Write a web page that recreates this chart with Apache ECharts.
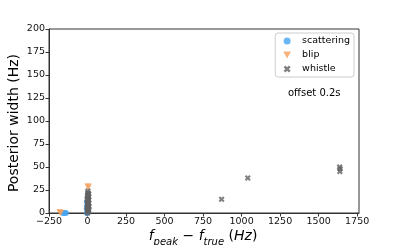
<!DOCTYPE html>
<html><head><meta charset="utf-8">
<script src="https://cdn.jsdelivr.net/npm/echarts@6/dist/echarts.min.js"></script>
<style>html,body{margin:0;padding:0;background:#fff}#c{width:399px;height:245px}</style>
</head><body><div id="c"></div>
<script>
const xTicks = [-250, 0, 250, 500, 750, 1000, 1250, 1500, 1750];
const yTicks = [0, 25, 50, 75, 100, 125, 150, 175, 200];
const scatteringX = [-150, -140, -160, -3, -5, 2, -4, 0, 3];
const scatteringY = [0, 0, 0, 0, 5, 2, 12, 8, 18];
const blipX = [-175, -180, 5, 3];
const blipY = [0, 1, 28, 29];
const whistleX = [0, 4, -2, 8, 2, 6, -4, 10, 1, 5, -1, 7, 3, 0, 9, -3, 4, 2, 6, 0, 5, 8, 1, 3, 870, 1040, 1638, 1640, 1636];
const whistleY = [0, 1, 2, 3, 4, 5, 6, 7, 8, 9, 10, 11, 12, 13, 14, 15, 16, 17, 18, 19, 20, 21, 22, 24, 15, 38, 45, 48, 50];

const pairs = (xs, ys) => xs.map((x, i) => [x, ys[i]]);
const xPath = 'path://M0,2.5 L2.5,0 L5,2.5 L7.5,0 L10,2.5 L7.5,5 L10,7.5 L7.5,10 L5,7.5 L2.5,10 L0,7.5 L2.5,5 Z';
const F = 'DejaVu Sans';
const chart = echarts.init(document.getElementById('c'), null, {renderer: 'canvas'});
chart.setOption({
  animation: false,
  backgroundColor: '#fff',
  grid: {left: 49, top: 29, right: 40, bottom: 32, show: true, borderColor: '#333', borderWidth: 1,
    containLabel: false, outerBoundsMode: 'none'},
  title: {text: 'offset 0.2s', left: 283, top: 83, textStyle: {fontFamily: F, fontSize: 10, fontWeight: 'normal', color: '#000'}},
  graphic: [
    {type: 'text', x: 14, y: 123, rotation: Math.PI / 2,
      style: {text: 'Posterior width (Hz)', fontFamily: F, fontSize: 14, fill: '#000', align: 'center', verticalAlign: 'middle'}},
    {type: 'text', x: 203, y: 235,
      style: {
        text: '{i|f}{s|peak}{n| \u2212 }{i|f}{s|true}{n| (}{i|Hz}{n|)}',
        align: 'center', verticalAlign: 'middle',
        rich: {
          i: {fontFamily: F, fontSize: 14, fontStyle: 'italic', fill: '#000', verticalAlign: 'bottom', lineHeight: 17},
          s: {fontFamily: F, fontSize: 10, fontStyle: 'italic', fill: '#000', verticalAlign: 'bottom', lineHeight: 17, padding: [0, 0, -4, 0]},
          n: {fontFamily: F, fontSize: 14, fill: '#000', verticalAlign: 'bottom', lineHeight: 17}
        }
      }}
  ],
  legend: {
    orient: 'vertical', right: 45, top: 33,
    borderColor: '#ccc', borderWidth: 1, borderRadius: 3,
    padding: [3, 4, 3, 8], itemGap: 4, itemWidth: 8, itemHeight: 7,
    textStyle: {fontFamily: F, fontSize: 9.5, color: '#000', padding: [0, 0, 0, 6]},
    data: [
      {name: 'scattering', icon: 'circle'},
      {name: 'blip', icon: 'path://M0,0 L10,0 L5,9 Z'},
      {name: 'whistle', icon: xPath}
    ]
  },
  xAxis: {
    type: 'value', min: -250, max: 1762, interval: 250,
    axisLine: {show: true, onZero: false, lineStyle: {color: '#333'}},
    axisTick: {show: true, length: 3.5, lineStyle: {color: '#333'}},
    splitLine: {show: false},
    axisLabel: {fontFamily: F, fontSize: 9.5, color: '#111', margin: 4, showMaxLabel: false,
      formatter: v => xTicks.includes(v) ? (v < 0 ? '\u2212' + (-v) : String(v)) : ''}
  },
  yAxis: {
    type: 'value', min: 0, max: 200, interval: 25,
    axisLine: {show: true, onZero: false, lineStyle: {color: '#333'}},
    axisTick: {show: true, length: 3.5, lineStyle: {color: '#333'}},
    splitLine: {show: false},
    axisLabel: {fontFamily: F, fontSize: 9.5, color: '#111', margin: 4,
      formatter: v => yTicks.includes(v) ? String(v) : ''}
  },
  series: [
    {name: 'scattering', type: 'scatter', symbol: 'circle', symbolSize: 6,
      itemStyle: {color: '#45a5f2'}, data: pairs(scatteringX, scatteringY)},
    {name: 'blip', type: 'scatter', symbol: 'path://M0,0 L10,0 L5,9 Z', symbolSize: [7, 6],
      itemStyle: {color: '#f5a05c'}, data: pairs(blipX, blipY)},
    {name: 'whistle', type: 'scatter', symbol: xPath, symbolSize: 6,
      itemStyle: {color: '#626262'}, data: pairs(whistleX, whistleY)}
  ]
});
</script></body></html>
